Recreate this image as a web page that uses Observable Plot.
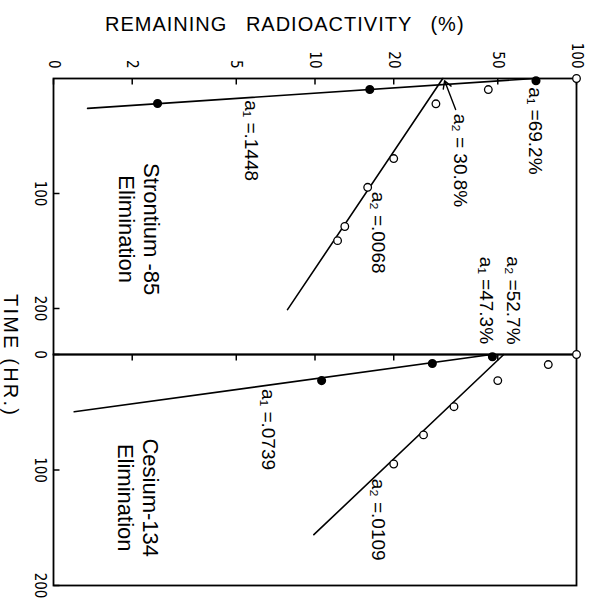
<!DOCTYPE html>
<html><head><meta charset="utf-8">
<script src="https://cdn.jsdelivr.net/npm/d3@7"></script>
<script src="https://cdn.jsdelivr.net/npm/@observablehq/plot@0.6"></script>
<style>
html,body{margin:0;padding:0;background:#fff;}
#root{position:relative;width:594px;height:600px;overflow:hidden;font-family:"Liberation Sans",Arial,sans-serif;color:#000;}
#title{position:absolute;left:105px;top:14px;font-size:20px;line-height:20px;letter-spacing:1px;word-spacing:12px;white-space:pre;}
#ylab{position:absolute;left:0px;top:294px;width:22px;font-size:20px;line-height:22px;letter-spacing:2.2px;writing-mode:vertical-rl;white-space:pre;}
#pa{position:absolute;left:0;top:40px;}
#pb{position:absolute;left:0;top:354px;}
svg{overflow:visible;}
</style></head>
<body><div id="root">
<div id="title">REMAINING RADIOACTIVITY (%)</div>
<div id="ylab">TIME (HR.)</div>
<div id="pa"></div>
<div id="pb"></div>
</div>
<script>
// ---- axis ticks ----
const pctTicks = [1, 2, 5, 10, 20, 50, 100];
const pctTickLabels = ["0", "2", "5", "10", "20", "50", "100"];
const innerPctTicks = [2, 5, 10, 20, 50];
const srTimeTicks = [100, 200];
const csTimeTicks = [0, 100, 200];

// ---- Strontium-85 ----
const srOpenT = [0, 9.6, 22, 69.6, 94.6, 128.7, 141];
const srOpenP = [100, 46, 29, 20, 15.9, 13.0, 12.2];
const srFilledT = [2, 9.6, 21.7];
const srFilledP = [70, 16.2, 2.5];
const srFastLineT = [0, 26];
const srFastLineP = [69.2, 1.35];
const srSlowLineT = [0, 201];
const srSlowLineP = [30.8, 7.85];

// ---- Cesium-134 ----
const csOpenT = [0, 8.7, 22.6, 45.2, 69.6, 94.8];
const csOpenP = [100, 78, 50, 34, 26, 20];
const csFilledT = [2, 7.8, 22.6];
const csFilledP = [47.7, 28.1, 10.6];
const csFastLineT = [0, 49.6];
const csFastLineP = [47.3, 1.2];
const csSlowLineT = [0, 156];
const csSlowLineP = [52.7, 9.9];

// ---- annotations ----
const srNoteText = ["a\u2081 =69.2%", "a\u2082 = 30.8%", "a\u2082 =.0068", "a\u2082 =52.7%", "a\u2081 =47.3%", "a\u2081 =.1448"];
const srNoteP = [69.7, 36, 17.5, 57.4, 45.3, 5.7];
const srNoteT = [45.6, 71.3, 134, 193, 193, 54];
const srPanelText = ["Strontium -85\nElimination"];
const srPanelP = [2.14];
const srPanelT = [131];
const srArrowP = [34.5, 31.3];
const srArrowT = [27, 2];

const csNoteText = ["a\u2081 =.0739", "a\u2082 =.0109"];
const csNoteP = [6.64, 17.5];
const csNoteT = [65, 143];
const csPanelText = ["Cesium-134\nElimination"];
const csPanelP = [2.11];
const csPanelT = [124];

const zip = (T, P) => T.map((t, i) => ({t, p: P[i]}));
const zipText = (S, P, T) => S.map((s, i) => ({s, p: P[i], t: T[i]}));

const narrow = "'Liberation Sans Narrow','DejaVu Sans Condensed','Arial Narrow',sans-serif";
const sans = "'Liberation Sans',Arial,sans-serif";
const W = 594, ML = 53, MR = 18, TICK = 6;
const XDOM = [1, 100];

function panel({height, marginTop, marginBottom, ydom, timeTicks, topLabels, open, filled, fast, slow, notes, panelText, arrow}) {
  const plotH = height - marginTop - marginBottom;
  const plotW = W - ML - MR;
  // inward tick length, converted from pixels into each scale's units
  const tickT = TICK * (ydom[1] - ydom[0]) / plotH;
  const tickP = XDOM[0] * Math.pow(XDOM[1] / XDOM[0], TICK / plotW);
  const topTicks = (topLabels ? pctTicks : innerPctTicks).map(v => ({v}));
  const leftTicks = timeTicks.map(v => ({v}));
  const marks = [
    Plot.link(topTicks, {x1: "v", x2: "v", y1: () => ydom[0], y2: () => ydom[0] + tickT, stroke: "black", strokeWidth: 1.5}),
    Plot.link(leftTicks, {y1: "v", y2: "v", x1: () => XDOM[0], x2: () => tickP, stroke: "black", strokeWidth: 1.5}),
    Plot.axisY({
      anchor: "left", ticks: timeTicks, tickSize: 0, tickPadding: 8, tickRotate: 90,
      tickFormat: d => String(d),
      textAnchor: "middle", lineAnchor: "top",
      fontSize: 15, fontFamily: narrow, label: null
    }),
    Plot.line(slow, {x: "p", y: "t", stroke: "black", strokeWidth: 1.6}),
    Plot.line(fast, {x: "p", y: "t", stroke: "black", strokeWidth: 1.6}),
    Plot.frame({stroke: "black", strokeWidth: 1.8}),
    Plot.dot(open, {x: "p", y: "t", r: 3.8, fill: "white", stroke: "black", strokeWidth: 1.3}),
    Plot.dot(filled, {x: "p", y: "t", r: 3.8, fill: "black", stroke: "black"}),
    Plot.text(notes, {x: "p", y: "t", text: "s", rotate: 90, textAnchor: "middle", lineAnchor: "middle", fontSize: 19, fontFamily: sans, fill: "black"}),
    Plot.text(panelText, {x: "p", y: "t", text: "s", rotate: 90, textAnchor: "middle", lineAnchor: "middle", lineHeight: 1.14, fontSize: 22, fontFamily: sans, fill: "black"})
  ];
  if (topLabels) marks.push(Plot.axisX({
      anchor: "top", ticks: pctTicks, tickSize: 0, tickPadding: 10, tickRotate: 90,
      tickFormat: d => pctTickLabels[pctTicks.indexOf(d)],
      textAnchor: "end", lineAnchor: "middle",
      fontSize: 15, fontFamily: narrow, label: null
    }));
  if (arrow) marks.push(Plot.arrow(arrow, {x1: "p1", y1: "t1", x2: "p2", y2: "t2", stroke: "black", strokeWidth: 1.4, headLength: 9}));
  return Plot.plot({
    width: W, height, marginLeft: ML, marginRight: MR, marginTop, marginBottom,
    style: {background: "transparent", overflow: "visible", color: "black"},
    x: {type: "log", domain: XDOM, label: null, axis: null},
    y: {domain: ydom, reverse: true, label: null},
    marks
  });
}

const A = panel({
  height: 314, marginTop: 38, marginBottom: 0, ydom: [0, 240], timeTicks: srTimeTicks, topLabels: true,
  open: zip(srOpenT, srOpenP), filled: zip(srFilledT, srFilledP),
  fast: zip(srFastLineT, srFastLineP), slow: zip(srSlowLineT, srSlowLineP),
  notes: zipText(srNoteText, srNoteP, srNoteT), panelText: zipText(srPanelText, srPanelP, srPanelT),
  arrow: [{p1: srArrowP[0], t1: srArrowT[0], p2: srArrowP[1], t2: srArrowT[1]}]
});
const B = panel({
  height: 246, marginTop: 0, marginBottom: 15, ydom: [0, 200], timeTicks: csTimeTicks, topLabels: false,
  open: zip(csOpenT, csOpenP), filled: zip(csFilledT, csFilledP),
  fast: zip(csFastLineT, csFastLineP), slow: zip(csSlowLineT, csSlowLineP),
  notes: zipText(csNoteText, csNoteP, csNoteT), panelText: zipText(csPanelText, csPanelP, csPanelT),
  arrow: null
});
document.getElementById("pa").appendChild(A);
document.getElementById("pb").appendChild(B);
</script>
</body></html>
